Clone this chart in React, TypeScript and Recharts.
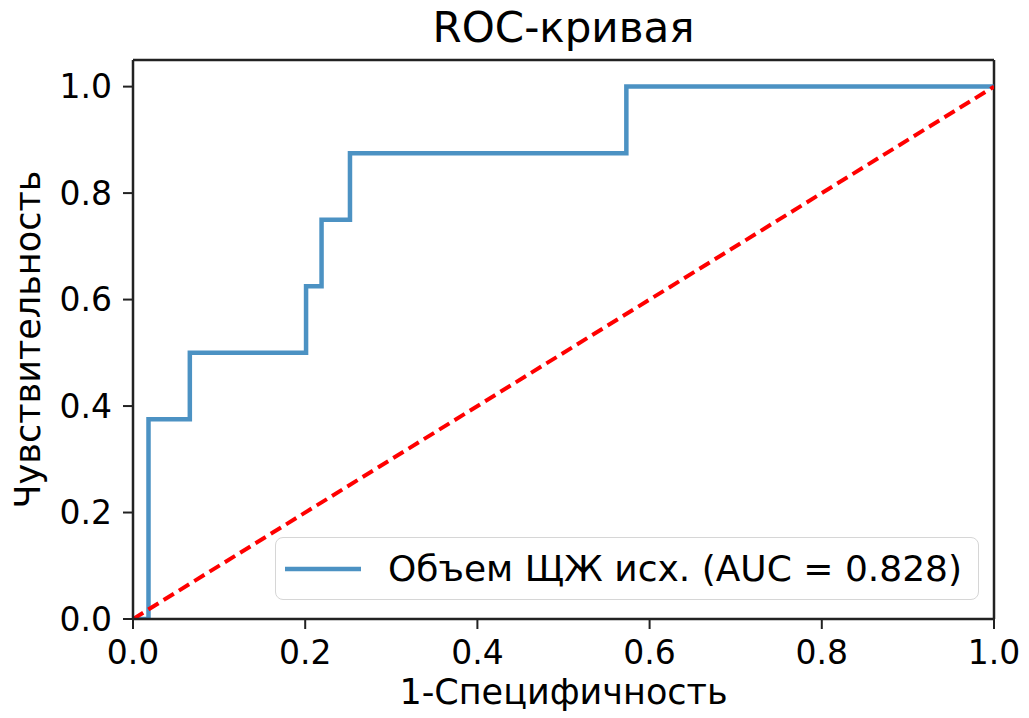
import {
  ComposedChart,
  Line,
  XAxis,
  YAxis,
  ReferenceLine,
  Label,
} from 'recharts';

// ROC curve points
const fpr = [0, 0.018, 0.018, 0.066, 0.066, 0.201, 0.201, 0.219, 0.219, 0.252, 0.252, 0.573, 0.573, 1];
const tpr = [0, 0, 0.375, 0.375, 0.5, 0.5, 0.625, 0.625, 0.75, 0.75, 0.875, 0.875, 1, 1];

// chance diagonal
const diagX = [0, 1];
const diagY = [0, 1];

const ticks = [0, 0.2, 0.4, 0.6, 0.8, 1.0];

const title = 'ROC-кривая';
const xLabel = '1-Специфичность';
const yLabel = 'Чувствительность';
const legendLabel = 'Объем ЩЖ исх. (AUC = 0.828)';

const font = '"DejaVu Sans", sans-serif';
const axisColor = '#222';

const rocData = fpr.map((x, i) => ({ x, y: tpr[i] }));
const diagData = diagX.map((x, i) => ({ x, y: diagY[i] }));

const App = () => {
  return (
    <div style={{ position: 'absolute', left: 0, top: 0, width: 1029, height: 718, background: '#fff', fontFamily: font }}>
      <div
        style={{
          position: 'absolute',
          left: 133,
          width: 861,
          top: 3,
          textAlign: 'center',
          fontSize: 42,
          color: '#000',
        }}
      >
        {title}
      </div>
      <ComposedChart width={1029} height={718} margin={{ top: 60, right: 35, bottom: 0, left: 0 }}>
        <XAxis
          dataKey="x"
          type="number"
          domain={[0, 1]}
          ticks={ticks}
          allowDataOverflow
          tickFormatter={(v: number) => v.toFixed(1)}
          height={99}
          tickSize={10}
          tickMargin={12}
          tick={{ fill: '#000', fontSize: 33, fontFamily: font }}
          axisLine={{ stroke: axisColor, strokeWidth: 2.5 }}
          tickLine={{ stroke: axisColor, strokeWidth: 2 }}
        >
          <Label
            value={xLabel}
            position="insideBottom"
            offset={14}
            style={{ fill: '#000', fontSize: 35, fontFamily: font }}
          />
        </XAxis>
        <YAxis
          dataKey="y"
          type="number"
          domain={[0, 1.05]}
          ticks={ticks}
          allowDataOverflow
          tickFormatter={(v: number) => v.toFixed(1)}
          width={133}
          tickSize={10}
          tickMargin={11}
          tick={{ fill: '#000', fontSize: 33, fontFamily: font }}
          axisLine={{ stroke: axisColor, strokeWidth: 2.5 }}
          tickLine={{ stroke: axisColor, strokeWidth: 2 }}
        >
          <Label
            value={yLabel}
            angle={-90}
            position="insideLeft"
            offset={28}
            style={{ fill: '#000', fontSize: 35, fontFamily: font, textAnchor: 'middle' }}
          />
        </YAxis>
        <ReferenceLine y={1.05} stroke={axisColor} strokeWidth={2.5} />
        <ReferenceLine x={1} stroke={axisColor} strokeWidth={2.5} />
        <Line
          data={rocData}
          dataKey="y"
          type="linear"
          stroke="#1f77b4"
          strokeOpacity={0.8}
          strokeWidth={4.5}
          dot={false}
          activeDot={false}
          isAnimationActive={false}
        />
        <Line
          data={diagData}
          dataKey="y"
          type="linear"
          stroke="#ff0000"
          strokeWidth={4}
          strokeDasharray="12 6"
          dot={false}
          activeDot={false}
          isAnimationActive={false}
        />
      </ComposedChart>
      <div
        style={{
          position: 'absolute',
          left: 275,
          top: 537,
          width: 704,
          height: 63,
          border: '1.5px solid #d6d6d6',
          borderRadius: 8,
          background: 'rgba(255,255,255,0.8)',
          display: 'flex',
          alignItems: 'center',
          boxSizing: 'border-box',
        }}
      >
        <svg width={112} height={20} style={{ flexShrink: 0 }}>
          <line x1={9} x2={85} y1={10} y2={10} stroke="#1f77b4" strokeOpacity={0.8} strokeWidth={4.5} />
        </svg>
        <span style={{ fontSize: 36, color: '#000', whiteSpace: 'nowrap' }}>{legendLabel}</span>
      </div>
    </div>
  );
};

export default App;
